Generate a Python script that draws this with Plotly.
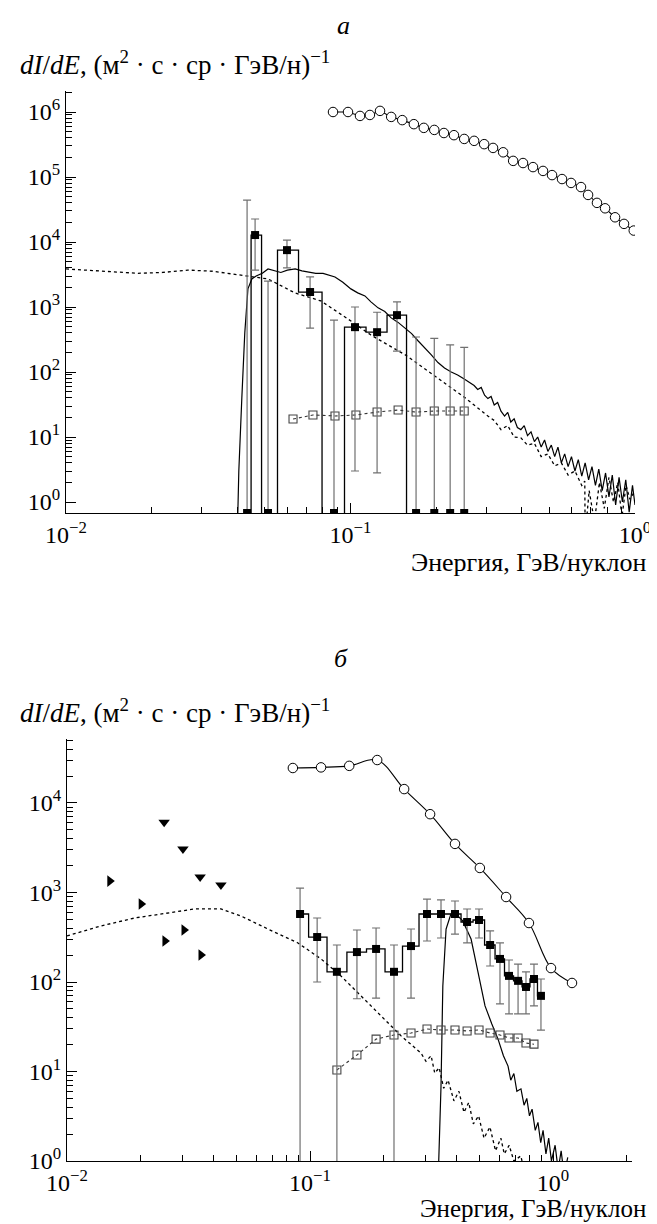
import numpy as np
import plotly.graph_objects as go

W, H = 657, 1224
FONT = "Liberation Serif, 'Times New Roman', DejaVu Serif, serif"

# ================= panel a =================
a_circ_E = [0.0868, 0.0980, 0.108, 0.117, 0.127, 0.139, 0.152, 0.167, 0.181, 0.197, 0.213,
            0.231, 0.251, 0.272, 0.295, 0.317, 0.344, 0.373, 0.404, 0.438, 0.475, 0.511,
            0.554, 0.596, 0.646, 0.684, 0.735, 0.785, 0.851, 0.915, 0.990]
a_circ_V = [1.0e6, 1.0e6, 8.7e5, 9.0e5, 1.04e6, 8.4e5, 7.5e5, 6.5e5, 5.7e5, 5.3e5, 4.75e5,
            4.4e5, 3.85e5, 3.6e5, 3.2e5, 2.8e5, 2.4e5, 1.77e5, 1.64e5, 1.42e5, 1.24e5, 1.07e5,
            9.3e4, 8.1e4, 7.0e4, 5.3e4, 4.0e4, 3.3e4, 2.4e4, 1.9e4, 1.5e4]

a_bin_E = [0.0433, 0.0462, 0.0513, 0.0598, 0.0721, 0.0875, 0.1037, 0.124, 0.1457, 0.170, 0.197, 0.224, 0.251]
a_bin_V = [0, 1.28e4, 0, 7.5e3, 1.7e3, 0, 490, 410, 750, 0, 0, 0, 0]
a_bin_hi = [4.4e4, 2.26e4, 2.5e3, 1.07e4, 2.9e3, 630, 1.0e3, 830, 1.2e3, 346, 330, 262, 240]
a_bin_lo = [0, 3.7e3, 0, 4.0e3, 475, 0, 3.0, 2.8, 210, 0, 0, 0, 0]

a_osq_E = [0.0628, 0.0738, 0.0882, 0.1045, 0.124, 0.147, 0.170, 0.197, 0.224, 0.251]
a_osq_V = [18.9, 21.8, 21.1, 21.8, 24.2, 26.0, 24.2, 25.1, 25.1, 25.1]

a_sol_E = [0.0400, 0.0405, 0.0415, 0.0425, 0.0436, 0.0450, 0.0466, 0.0490, 0.0513, 0.0540,
           0.0569, 0.0600, 0.0639, 0.0675, 0.0709, 0.0755, 0.0801, 0.0840, 0.0882, 0.0940,
           0.1003, 0.1060, 0.1124, 0.1180, 0.125, 0.132, 0.139, 0.147, 0.156, 0.164, 0.173,
           0.182, 0.192, 0.203, 0.214, 0.226, 0.238, 0.251, 0.265, 0.272, 0.280, 0.288, 0.296,
           0.304, 0.312, 0.320, 0.329, 0.338, 0.348, 0.357, 0.366, 0.376, 0.386, 0.397, 0.408,
           0.419, 0.431, 0.443, 0.455, 0.468, 0.481, 0.494, 0.508, 0.522, 0.536, 0.551, 0.566,
           0.582, 0.598, 0.615, 0.632, 0.650, 0.668, 0.687, 0.706, 0.726, 0.746, 0.767, 0.788,
           0.810, 0.832, 0.855, 0.879, 0.903, 0.928, 0.954, 0.980, 1.0]
a_sol_V = [0.3, 3, 40, 400, 1900, 2700, 3000, 3300, 3850, 3600,
           3400, 3700, 3850, 3600, 3500, 3300, 3300, 3100, 2900, 2400,
           1900, 1650, 1480, 1200, 970, 850, 680, 580, 475, 390, 300,
           240, 185, 140, 115, 100, 90, 78, 68, 62, 54, 58, 44,
           39, 42, 31, 34, 25, 21, 24, 17, 19, 14, 13, 15,
           10.5, 12, 8.5, 10, 7, 9, 6, 7.5, 5, 7, 4, 5.5,
           3.5, 5, 3, 4.5, 2.5, 4, 2.2, 3.5, 1.8, 3.2, 1.5, 2.8,
           1.2, 2.6, 0.9, 2.4, 1.0, 2.2, 0.7, 1.8, 0.9]

a_dot_E = [0.0100, 0.0140, 0.0179, 0.0219, 0.0268, 0.0328, 0.0412, 0.0513, 0.0639, 0.0787,
           0.1003, 0.118, 0.156, 0.203, 0.253, 0.304, 0.320, 0.338, 0.357, 0.376, 0.397,
           0.419, 0.443, 0.468, 0.494, 0.522, 0.551, 0.582, 0.615, 0.650, 0.666, 0.668,
           0.690, 0.720, 0.750, 0.780, 0.810, 0.840, 0.870, 0.900, 0.930, 0.960, 1.0]
a_dot_V = [3850, 3550, 3300, 3400, 3700, 3550, 3100, 2700, 1640, 1240,
           610, 371, 183, 81, 40, 21, 18, 13, 15, 10, 9.7,
           7.5, 8, 5, 5.5, 3.6, 4, 2.6, 3, 1.8, 2.1, 0.3,
           1.5, 0.5, 2.0, 0.8, 2.4, 1.0, 2.0, 0.6, 1.8, 1.1, 1.5]

# ================= panel b =================
b_circ_E = [0.085, 0.111, 0.145, 0.189, 0.244, 0.312, 0.395, 0.50, 0.641, 0.796, 0.981, 1.197]
b_circ_V = [2.46e4, 2.5e4, 2.6e4, 3.02e4, 1.43e4, 7.5e3, 3.49e3, 1.88e3, 890, 456, 143, 97.5]

b_bin_E = [0.091, 0.107, 0.129, 0.156, 0.187, 0.2216, 0.2604, 0.303, 0.346, 0.395, 0.443,
           0.496, 0.551, 0.605, 0.659, 0.718, 0.774, 0.835, 0.892]
b_bin_V = [575, 318, 130, 216, 234, 130, 252, 575, 575, 575, 468, 493, 259, 181, 117, 103, 88, 108, 70]
b_bin_hi = [1120, 519, 259, 381, 401, 259, 391, 845, 825, 803, 654, 654, 372, 273, 176, 158, 130, 158, 108]
b_bin_lo = [0, 100, 0, 65, 66, 0, 66, 287, 310, 343, 273, 310, 151, 57, 44, 44, 44, 54, 29]

b_osq_E = [0.129, 0.156, 0.187, 0.2216, 0.2604, 0.303, 0.346, 0.395, 0.443, 0.496, 0.551,
           0.605, 0.659, 0.718, 0.774, 0.835]
b_osq_V = [10.4, 15.3, 23, 25.6, 26.9, 29.8, 29.1, 29.1, 28.4, 29.1, 26.9, 25.6, 23.7, 23.7, 20.8, 20.2]

b_tdn_E = [0.0251, 0.0300, 0.0353, 0.0430]
b_tdn_V = [6.1e3, 3.06e3, 1.49e3, 1.21e3]
b_trt_E = [0.0150, 0.0202, 0.0253, 0.0303, 0.0356]
b_trt_V = [1.34e3, 745, 287, 381, 200]

b_sol_E = [0.336, 0.346, 0.352, 0.363, 0.380, 0.395, 0.425, 0.460, 0.490, 0.525, 0.560,
           0.594, 0.625, 0.653, 0.670, 0.690, 0.710, 0.738, 0.760, 0.780, 0.800, 0.820,
           0.845, 0.867, 0.890, 0.910, 0.935, 0.960, 0.985, 1.02, 1.05, 1.08, 1.11, 1.15]
b_sol_V = [0.5, 6.9, 90, 391, 575, 590, 481, 302, 133, 54, 34,
           23, 15, 11.5, 8, 9.5, 6, 6.4, 4.2, 5, 3.2, 3.8,
           2.2, 2.7, 1.6, 2.2, 1.2, 1.8, 1.0, 1.5, 0.8, 1.3, 0.7, 1.1]

b_dot_E = [0.0100, 0.0138, 0.0190, 0.0260, 0.0336, 0.0430, 0.052, 0.0671, 0.0892, 0.111,
           0.134, 0.162, 0.196, 0.237, 0.286, 0.300, 0.315, 0.326, 0.340, 0.355, 0.370,
           0.391, 0.410, 0.430, 0.450, 0.470, 0.494, 0.520, 0.550, 0.580, 0.610, 0.630,
           0.660, 0.690, 0.737, 0.760]
b_dot_V = [327, 423, 519, 590, 655, 655, 546, 391, 273, 181,
           117, 70, 41.7, 25, 16.1, 13, 15, 9.6, 11, 6.5, 8,
           4.7, 6, 3.5, 4.5, 2.6, 3.2, 1.8, 2.4, 1.3, 1.8, 1.2,
           1.5, 1.0, 1.14, 0.8]

# ================= helpers =================
A_YMIN = 0.678
A_HIDE = 0.3
B_YMIN = 1.0
B_HIDE = 0.4
ERRC = "#707070"


def minor_vals(lo_dec, hi_dec, vmax):
    out = []
    for d in range(lo_dec, hi_dec + 1):
        for k in range(2, 10):
            v = k * 10.0 ** d
            if v <= vmax:
                out.append(v)
    return out


def sup(n):
    s = str(n).replace("-", "\u2212")
    return "10<sup>%s</sup>" % s


fig = go.Figure()


def add_panel(xa, ya, circ_E, circ_V, circ_shape, bin_E, bin_V, bin_hi, bin_lo,
              osq_E, osq_V, sol_E, sol_V, dot_E, dot_V, ymin, hide):
    bv = np.array(bin_V, float)
    hi = np.array(bin_hi, float)
    lo = np.array(bin_lo, float)
    yp = np.where(bv > 0, bv, ymin)
    yh = np.where(bv > 0, bv, hide)
    lo_eff = np.where(lo > 0, lo, hide)
    fig.add_trace(go.Scatter(x=dot_E, y=dot_V, mode="lines", xaxis=xa, yaxis=ya,
                             line=dict(color="black", width=1.3, dash="dot")))
    fig.add_trace(go.Scatter(x=sol_E, y=sol_V, mode="lines", xaxis=xa, yaxis=ya,
                             line=dict(color="black", width=1.2)))
    fig.add_trace(go.Scatter(x=bin_E, y=yh, mode="lines", xaxis=xa, yaxis=ya,
                             line=dict(color="black", width=1.3, shape="hvh")))
    fig.add_trace(go.Scatter(x=osq_E, y=osq_V, mode="lines+markers", xaxis=xa, yaxis=ya,
                             line=dict(color="#333333", width=1.1, dash="dot"),
                             marker=dict(symbol="square-open", size=8, color="#444444",
                                         line=dict(width=1.1))))
    fig.add_trace(go.Scatter(x=bin_E, y=yp, mode="markers", xaxis=xa, yaxis=ya,
                             marker=dict(symbol="square", size=8, color="black"),
                             error_y=dict(type="data", symmetric=False,
                                          array=hi - yp, arrayminus=yp - lo_eff,
                                          color=ERRC, thickness=1.2, width=4)))
    fig.add_trace(go.Scatter(x=circ_E, y=circ_V, mode="lines+markers", xaxis=xa, yaxis=ya,
                             line=dict(color="black", width=1.1, shape=circ_shape),
                             marker=dict(symbol="circle", size=9.5, color="white",
                                         line=dict(color="black", width=1))))


add_panel("x", "y", a_circ_E, a_circ_V, "linear", a_bin_E, a_bin_V, a_bin_hi, a_bin_lo,
          a_osq_E, a_osq_V, a_sol_E, a_sol_V, a_dot_E, a_dot_V, A_YMIN, A_HIDE)
add_panel("x2", "y2", b_circ_E, b_circ_V, "spline", b_bin_E, b_bin_V, b_bin_hi, b_bin_lo,
          b_osq_E, b_osq_V, b_sol_E, b_sol_V, b_dot_E, b_dot_V, B_YMIN, B_HIDE)

fig.add_trace(go.Scatter(x=b_tdn_E, y=b_tdn_V, mode="markers", xaxis="x2", yaxis="y2",
                         marker=dict(symbol="triangle-down", size=10, color="black")))
fig.add_trace(go.Scatter(x=b_trt_E, y=b_trt_V, mode="markers", xaxis="x2", yaxis="y2",
                         marker=dict(symbol="triangle-right", size=10, color="black")))

tickfont = dict(family=FONT, size=24, color="black")


def xaxis_cfg(domain, anchor, xmax_log, decs):
    return dict(domain=domain, anchor=anchor, type="log", range=[-2, xmax_log],
                automargin=False,
                showline=True, linecolor="black", linewidth=1.2, mirror=False,
                showgrid=False, zeroline=False, ticks="inside", ticklen=10,
                tickwidth=1, tickcolor="black",
                tickvals=[10.0 ** d for d in decs], ticktext=[sup(d) for d in decs],
                tickfont=tickfont,
                minor=dict(tickmode="array", tickvals=minor_vals(-2, 0, 10 ** xmax_log),
                           ticks="inside", ticklen=6, tickcolor="black", showgrid=False))


def yaxis_cfg(domain, anchor, rng, decs):
    return dict(domain=domain, anchor=anchor, type="log", range=rng,
                automargin=False,
                showline=True, linecolor="black", linewidth=1.2, mirror=False,
                showgrid=False, zeroline=False, ticks="inside", ticklen=10,
                tickwidth=1, tickcolor="black",
                tickvals=[10.0 ** d for d in decs], ticktext=[sup(d) for d in decs],
                tickfont=tickfont,
                minor=dict(tickmode="array", tickvals=minor_vals(0, decs[-1], 10 ** rng[1]),
                           ticks="inside", ticklen=6, tickcolor="black", showgrid=False))


def px_x(p):
    return p / W


def px_y(p):
    return 1 - p / H


fig.update_layout(
    width=W, height=H, margin=dict(l=0, r=0, t=0, b=0, autoexpand=False),
    paper_bgcolor="white", plot_bgcolor="white", showlegend=False,
    font=dict(family=FONT, color="black"),
    xaxis=xaxis_cfg([px_x(58), px_x(627)], "y", 0.0, [-2, -1, 0]),
    yaxis=yaxis_cfg([px_y(505), px_y(83)], "x", [np.log10(A_YMIN), 6.323], [0, 1, 2, 3, 4, 5, 6]),
    xaxis2=xaxis_cfg([px_x(59), px_x(624)], "y2", 0.325, [-2, -1, 0]),
    yaxis2=yaxis_cfg([px_y(1153), px_y(731)], "x2", [0.0, 4.715], [0, 1, 2, 3, 4]),
)

ylab = "<i>dI</i>/<i>dE</i>, (м<sup>2</sup> · с · ср · ГэВ/н)<sup>\u22121</sup>"
xlab = "Энергия, ГэВ/нуклон"
ann = [
    dict(text="<i>a</i>", x=px_x(335), y=px_y(18), size=26),
    dict(text=ylab, x=px_x(10), y=px_y(55), xanchor="left", size=27),
    dict(text=xlab, x=px_x(640), y=px_y(555), xanchor="right", size=26),
    dict(text="<i>б</i>", x=px_x(333), y=px_y(650), size=26),
    dict(text=ylab, x=px_x(10), y=px_y(703), xanchor="left", size=27),
    dict(text=xlab, x=px_x(640), y=px_y(1200), xanchor="right", size=25),
]
for a in ann:
    a.setdefault("xanchor", "center")
    sz = a.pop("size")
    fig.add_annotation(xref="paper", yref="paper", showarrow=False, yanchor="middle",
                       font=dict(family=FONT, size=sz, color="black"), **a)

fig.write_html("out.html")
